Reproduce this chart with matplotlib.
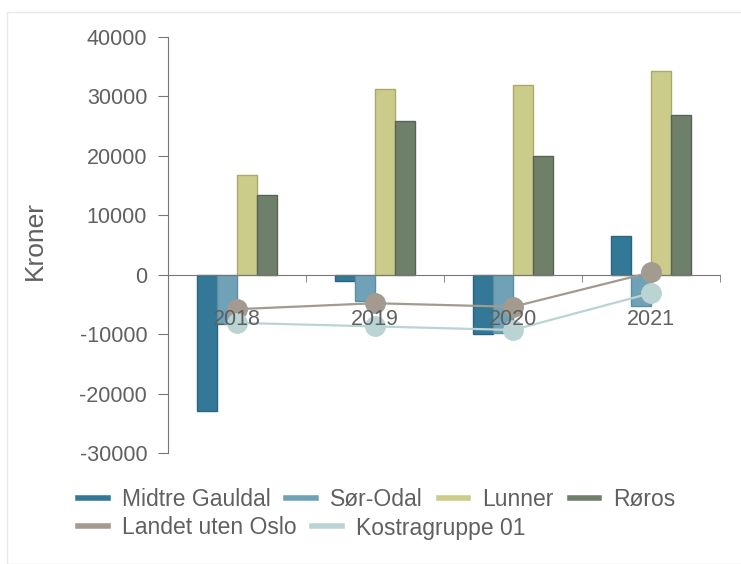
import numpy as np
import matplotlib
matplotlib.use('Agg')
import matplotlib.pyplot as plt
from matplotlib.lines import Line2D
from matplotlib.patches import Rectangle

plt.rcParams['font.family'] = ['Liberation Sans', 'DejaVu Sans']
plt.rcParams['axes.unicode_minus'] = False

years = ['2018', '2019', '2020', '2021']
midtre_gauldal = [-23000, -1100, -9900, 6500]
sor_odal = [-8300, -4400, -9800, -5300]
lunner = [16800, 31200, 32000, 34300]
roros = [13400, 25900, 19900, 26900]
landet_uten_oslo = [-5800, -4800, -5400, 400]
kostragruppe_01 = [-8100, -8700, -9300, -3100]

bar_names = ['Midtre Gauldal', 'Sør-Odal', 'Lunner', 'Røros']
bar_colors = ['#337896', '#6fa2b6', '#cccc8a', '#6f806a']
bar_edges = ['#2a6480', '#5c8fa3', '#a9a96c', '#566552']
line_names = ['Landet uten Oslo', 'Kostragruppe 01']
line_colors = ['#a39a90', '#b9d4d3']

txt = '#606060'
fs = 15.5

fig = plt.figure(figsize=(7.41, 5.64), dpi=100)
fig.patches.append(Rectangle((7/741, 0), 1, 1 - 12/564, transform=fig.transFigure,
                             fill=False, edgecolor='#e8e8e8', lw=1))
ax = fig.add_axes([168/741, 1 - 453/564, 552/741, (453 - 37)/564])

x = np.arange(len(years))
w = 0.145
series = [midtre_gauldal, sor_odal, lunner, roros]
for i, vals in enumerate(series):
    ax.bar(x + (i - 1.5) * w, vals, width=w, color=bar_colors[i],
           edgecolor=bar_edges[i], linewidth=1, zorder=2)

ax.plot(x, landet_uten_oslo, color=line_colors[0], lw=1.6, marker='o', ms=14, zorder=3)
ax.plot(x, kostragruppe_01, color=line_colors[1], lw=1.6, marker='o', ms=14, zorder=3)

ax.set_xlim(-0.5, 3.5)
ax.set_ylim(-30000, 40000)
ax.set_yticks(np.arange(-30000, 40001, 10000))
ax.set_ylabel('Kroner', fontsize=19, color=txt)
ax.yaxis.set_label_coords(-0.219, 0.512)

for s in ['top', 'right']:
    ax.spines[s].set_visible(False)
ax.spines['bottom'].set_position(('data', 0))
ax.spines['bottom'].set_color('#777777')
ax.spines['left'].set_color('#777777')
ax.set_xticks(x)
ax.set_xticklabels(years)
ax.set_xticks(np.arange(-0.5, 3.6, 1), minor=True)
ax.tick_params(axis='x', which='major', length=0, pad=25, labelsize=fs, labelcolor=txt)
ax.tick_params(axis='x', which='minor', length=5, color='#777777')
ax.tick_params(axis='y', length=7, color='#777777', labelsize=fs, labelcolor=txt, pad=8)
# year labels sit on top of the line markers
ax.xaxis.set_zorder(5)

h1 = [Line2D([], [], color=c, lw=4) for c in bar_colors]
h2 = [Line2D([], [], color=c, lw=4) for c in line_colors]
kw = dict(frameon=False, fontsize=16.5, labelcolor=txt, handlelength=1.3,
          handletextpad=0.6, columnspacing=0.7, borderaxespad=0, borderpad=0)
fig.legend(h1, bar_names, ncol=4, loc='center left', bbox_to_anchor=(78/741, 1 - 500/564), **kw)
fig.legend(h2, line_names, ncol=2, loc='center left', bbox_to_anchor=(78/741, 1 - 528/564), **kw)

fig.savefig('out.png', dpi=100)
